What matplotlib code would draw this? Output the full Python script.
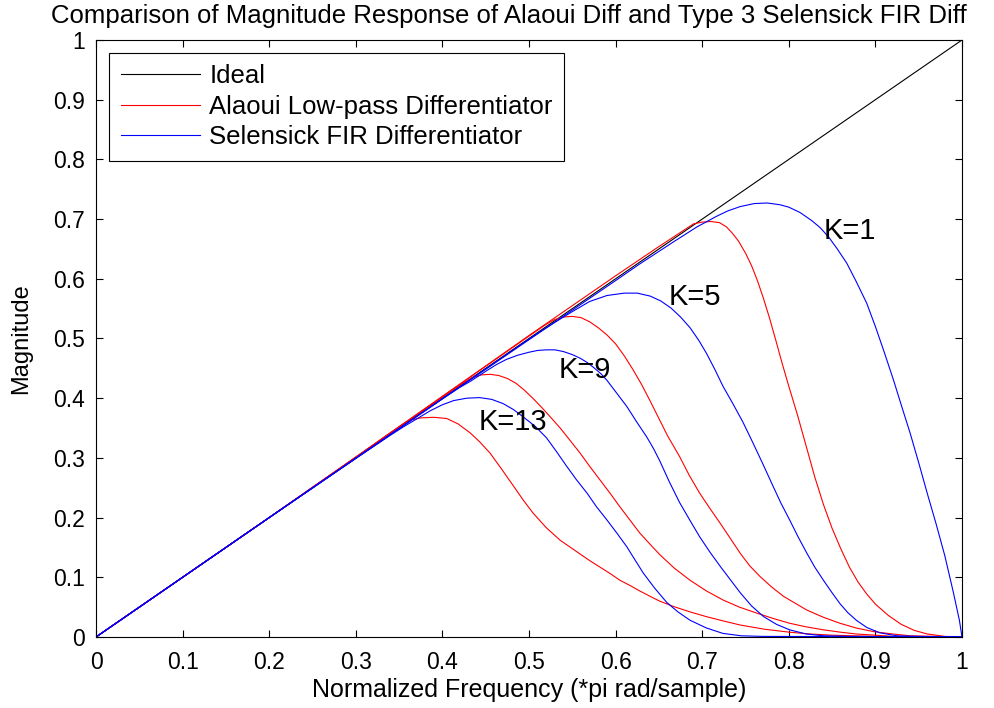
import matplotlib
matplotlib.use("Agg")
import matplotlib.pyplot as plt

plt.rcParams['font.family'] = ['Liberation Sans', 'DejaVu Sans']

# ideal differentiator
ideal_x = [0.0, 1.0]
ideal_y = [0.0, 1.0]

# Alaoui low-pass differentiators (red)
a1_x = [0, 0.1, 0.2, 0.3, 0.4, 0.5, 0.6, 0.65, 0.69, 0.70, 0.71, 0.72, 0.728, 0.735, 0.742, 0.75,
        0.757, 0.764, 0.771, 0.778, 0.785, 0.792, 0.80, 0.81, 0.82, 0.83, 0.84, 0.85, 0.86, 0.87,
        0.88, 0.89, 0.90, 0.915, 0.93, 0.945, 0.96, 0.98, 1.0]
a1_y = [0, 0.1, 0.2, 0.301, 0.403, 0.505, 0.605, 0.654, 0.692, 0.695, 0.696, 0.694, 0.687, 0.676,
        0.663, 0.643, 0.622, 0.596, 0.566, 0.533, 0.497, 0.460, 0.420, 0.372, 0.320, 0.268, 0.222,
        0.182, 0.148, 0.117, 0.092, 0.072, 0.055, 0.036, 0.021, 0.011, 0.005, 0.001, 0.0]

a5_x = [0, 0.2, 0.4, 0.5, 0.52, 0.53, 0.54, 0.55, 0.56, 0.57, 0.58, 0.59, 0.60, 0.61, 0.62, 0.63,
        0.64, 0.65, 0.66, 0.674, 0.685, 0.697, 0.71, 0.721, 0.733, 0.744, 0.755, 0.767, 0.78,
        0.794, 0.808, 0.821, 0.84, 0.859, 0.878, 0.898, 0.92, 0.94, 0.97, 1.0]
a5_y = [0, 0.2, 0.403, 0.504, 0.524, 0.532, 0.536, 0.537, 0.535, 0.528, 0.518, 0.506, 0.491, 0.471,
        0.448, 0.423, 0.395, 0.366, 0.337, 0.302, 0.271, 0.241, 0.213, 0.190, 0.164, 0.140, 0.119,
        0.101, 0.084, 0.068, 0.056, 0.045, 0.033, 0.023, 0.015, 0.009, 0.005, 0.002, 0.001, 0.0]

a9_x = [0, 0.2, 0.3, 0.4, 0.42, 0.435, 0.445, 0.455, 0.465, 0.475, 0.485, 0.495, 0.505, 0.515,
        0.525, 0.536, 0.547, 0.559, 0.57, 0.582, 0.594, 0.605, 0.617, 0.628, 0.64, 0.651, 0.668,
        0.686, 0.705, 0.724, 0.743, 0.763, 0.782, 0.801, 0.82, 0.84, 0.86, 0.878, 0.9, 0.92, 1.0]
a9_y = [0, 0.2, 0.301, 0.402, 0.422, 0.435, 0.439, 0.440, 0.438, 0.433, 0.425, 0.413, 0.399, 0.384,
        0.368, 0.350, 0.330, 0.308, 0.286, 0.263, 0.240, 0.218, 0.195, 0.174, 0.155, 0.138, 0.115,
        0.095, 0.077, 0.062, 0.050, 0.040, 0.031, 0.023, 0.017, 0.012, 0.008, 0.005, 0.003, 0.001, 0.0]

a13_x = [0, 0.2, 0.3, 0.34, 0.355, 0.365, 0.375, 0.39, 0.405, 0.418, 0.432, 0.443, 0.455, 0.468,
         0.482, 0.494, 0.505, 0.52, 0.536, 0.548, 0.559, 0.57, 0.582, 0.594, 0.605, 0.617, 0.628,
         0.64, 0.651, 0.667, 0.686, 0.705, 0.724, 0.744, 0.772, 0.801, 0.825, 0.85, 0.9, 1.0]
a13_y = [0, 0.2, 0.301, 0.342, 0.357, 0.364, 0.367, 0.368, 0.366, 0.357, 0.342, 0.327, 0.308, 0.282,
         0.253, 0.228, 0.207, 0.183, 0.162, 0.150, 0.139, 0.128, 0.117, 0.106, 0.095, 0.086, 0.077,
         0.068, 0.060, 0.051, 0.042, 0.034, 0.027, 0.020, 0.013, 0.008, 0.005, 0.003, 0.001, 0.0]

# Selensick FIR differentiators (blue)
s1_x = [0, 0.2, 0.4, 0.6, 0.628, 0.667, 0.694, 0.717, 0.73, 0.744, 0.76, 0.775, 0.79, 0.80, 0.813,
        0.826, 0.836, 0.846, 0.856, 0.867, 0.878, 0.89, 0.90, 0.91, 0.921, 0.93, 0.94, 0.95, 0.96,
        0.97, 0.98, 0.99, 0.997, 1.0]
s1_y = [0, 0.2, 0.399, 0.597, 0.625, 0.662, 0.687, 0.705, 0.714, 0.721, 0.726, 0.727, 0.724, 0.720,
        0.711, 0.698, 0.686, 0.670, 0.650, 0.626, 0.595, 0.559, 0.520, 0.478, 0.430, 0.388, 0.342,
        0.292, 0.240, 0.190, 0.137, 0.075, 0.028, 0.0]

s5_x = [0, 0.2, 0.4, 0.5, 0.52, 0.532, 0.55, 0.57, 0.59, 0.61, 0.625, 0.64, 0.652, 0.664, 0.675,
        0.686, 0.696, 0.705, 0.715, 0.724, 0.735, 0.747, 0.758, 0.77, 0.782, 0.791, 0.801, 0.811,
        0.821, 0.83, 0.84, 0.85, 0.859, 0.868, 0.878, 0.89, 0.905, 0.925, 0.95, 1.0]
s5_y = [0, 0.2, 0.399, 0.499, 0.518, 0.529, 0.545, 0.562, 0.572, 0.576, 0.576, 0.571, 0.563, 0.551,
        0.536, 0.518, 0.497, 0.475, 0.447, 0.420, 0.392, 0.360, 0.327, 0.290, 0.252, 0.224, 0.196,
        0.167, 0.140, 0.117, 0.095, 0.074, 0.056, 0.041, 0.028, 0.016, 0.007, 0.002, 0.001, 0.0]

s9_x = [0, 0.2, 0.4, 0.42, 0.432, 0.45, 0.462, 0.474, 0.487, 0.5, 0.51, 0.52, 0.53, 0.54, 0.55,
        0.559, 0.567, 0.575, 0.583, 0.59, 0.601, 0.613, 0.624, 0.636, 0.644, 0.651, 0.662, 0.674,
        0.686, 0.697, 0.709, 0.721, 0.733, 0.744, 0.757, 0.771, 0.786, 0.801, 0.82, 0.84, 0.87, 1.0]
s9_y = [0, 0.2, 0.399, 0.418, 0.428, 0.445, 0.456, 0.465, 0.472, 0.477, 0.480, 0.481, 0.481, 0.478,
        0.473, 0.467, 0.460, 0.451, 0.441, 0.430, 0.409, 0.386, 0.361, 0.335, 0.315, 0.295, 0.260,
        0.225, 0.195, 0.168, 0.142, 0.118, 0.095, 0.074, 0.052, 0.034, 0.021, 0.012, 0.005, 0.002,
        0.001, 0.0]

s13_x = [0, 0.2, 0.3, 0.34, 0.355, 0.37, 0.386, 0.4, 0.413, 0.428, 0.443, 0.457, 0.47, 0.482, 0.493,
         0.507, 0.52, 0.532, 0.543, 0.555, 0.567, 0.578, 0.59, 0.602, 0.613, 0.622, 0.632, 0.645,
         0.659, 0.672, 0.686, 0.705, 0.724, 0.745, 0.77, 1.0]
s13_y = [0, 0.2, 0.299, 0.338, 0.352, 0.365, 0.379, 0.389, 0.396, 0.400, 0.401, 0.398, 0.391, 0.381,
         0.369, 0.353, 0.334, 0.310, 0.287, 0.263, 0.241, 0.218, 0.196, 0.173, 0.151, 0.130, 0.107,
         0.082, 0.058, 0.042, 0.028, 0.015, 0.006, 0.002, 0.001, 0.0]

k_labels = ['K=1', 'K=5', 'K=9', 'K=13']
k_pos = [(0.871, 0.680), (0.692, 0.570), (0.565, 0.447), (0.482, 0.360)]

fig = plt.figure(figsize=(9.94, 7.08), dpi=100)
ax = fig.add_axes([0.0966, 0.1003, 0.8712, 0.8432])

lw = 0.8
l_ideal, = ax.plot(ideal_x, ideal_y, color='black', lw=lw)
l_a, = ax.plot(a1_x, a1_y, color='red', lw=lw)
ax.plot(a5_x, a5_y, color='red', lw=lw)
ax.plot(a9_x, a9_y, color='red', lw=lw)
ax.plot(a13_x, a13_y, color='red', lw=lw)
l_s, = ax.plot(s1_x, s1_y, color='blue', lw=lw)
ax.plot(s5_x, s5_y, color='blue', lw=lw)
ax.plot(s9_x, s9_y, color='blue', lw=lw)
ax.plot(s13_x, s13_y, color='blue', lw=lw)

for lab, (tx, ty) in zip(k_labels, k_pos):
    ax.text(tx, ty, lab, fontsize=21, ha='center', va='center')

ax.set_xlim(0, 1)
ax.set_ylim(0, 1)
ticks = [i / 10 for i in range(11)]
tick_text = ['0', '0.1', '0.2', '0.3', '0.4', '0.5', '0.6', '0.7', '0.8', '0.9', '1']
ax.set_xticks(ticks)
ax.set_yticks(ticks)
ax.set_xticklabels(tick_text)
ax.set_yticklabels(tick_text)
ax.tick_params(direction='in', top=True, right=True, length=5, width=0.8, labelsize=16.5)
ax.tick_params(axis='x', pad=10)
ax.tick_params(axis='y', pad=8)
for s in ax.spines.values():
    s.set_linewidth(0.8)

ax.set_xlabel('Normalized Frequency (*pi rad/sample)', fontsize=18, labelpad=3)
ax.set_ylabel('Magnitude', fontsize=17, labelpad=15)
ax.set_title('Comparison of Magnitude Response of Alaoui Diff and Type 3 Selensick FIR Diff',
             fontsize=18.5, pad=12, x=0.477)

leg = ax.legend([l_ideal, l_a, l_s],
                ['Ideal', 'Alaoui Low-pass Differentiator', 'Selensick FIR Differentiator'],
                loc='upper left', bbox_to_anchor=(0.015, 0.979), borderaxespad=0,
                fontsize=18.5, handlelength=3.1, handletextpad=0.36, labelspacing=0.25,
                borderpad=0.45, fancybox=False, framealpha=1, edgecolor='black')
leg.get_frame().set_linewidth(0.8)

plt.savefig('out.png', dpi=100)
